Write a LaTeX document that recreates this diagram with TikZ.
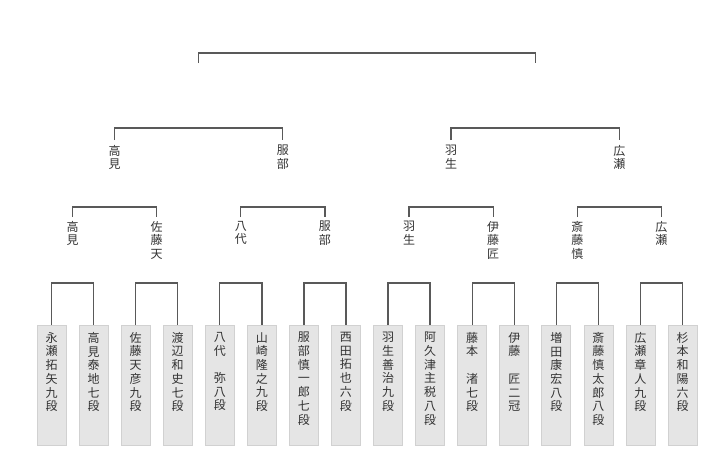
\documentclass[tikz,border=0pt]{standalone}
\usepackage{fontspec}
\newfontfamily\cjk{Noto Sans CJK JP}
\begin{document}
\begin{tikzpicture}[x=1pt,y=-1pt,
  br/.style={draw=black!65,line width=1.4pt},
  leaf/.style={fill=black!10,draw=black!18,line width=0.8pt,minimum width=29pt,minimum height=120pt,anchor=north,inner sep=0pt},
  lt/.style={anchor=north,align=center,inner sep=0pt,text=black!80,font=\cjk\fontsize{12}{13.7}\selectfont},
  wl/.style={anchor=north,align=center,inner sep=0pt,text=black!80,font=\cjk\fontsize{12}{13.4}\selectfont}]
\useasboundingbox (0,0) rectangle (720,453);
% leaves
\foreach \i/\t in {0/永\\瀬\\拓\\矢\\九\\段,1/高\\見\\泰\\地\\七\\段,2/佐\\藤\\天\\彦\\九\\段,3/渡\\辺\\和\\史\\七\\段,
 4/八\\代\\　\\弥\\八\\段,5/山\\崎\\隆\\之\\九\\段,6/服\\部\\慎\\一\\郎\\七\\段,7/西\\田\\拓\\也\\六\\段,
 8/羽\\生\\善\\治\\九\\段,9/阿\\久\\津\\主\\税\\八\\段,10/藤\\本\\　\\渚\\七\\段,11/伊\\藤\\　\\匠\\二\\冠,
 12/増\\田\\康\\宏\\八\\段,13/斎\\藤\\慎\\太\\郎\\八\\段,14/広\\瀬\\章\\人\\九\\段,15/杉\\本\\和\\陽\\六\\段}{
  \node[leaf] (L\i) at ({51.5+42.07*\i},325) {};
  \node[lt] (T\i) at ({51.5+42.07*\i},332) {\t};
}
% round 1 brackets
\foreach \j in {0,...,7}{
  \pgfmathtruncatemacro\a{2*\j}\pgfmathtruncatemacro\b{2*\j+1}
  \draw[br] (L\a.north) -- ++(0,-42) -| (L\b.north);
}
% round 2 winners
\foreach \j/\t in {0/高\\見,1/佐\\藤\\天,2/八\\代,3/服\\部,4/羽\\生,5/伊\\藤\\匠,6/斎\\藤\\慎,7/広\\瀬}{
  \coordinate (P\j) at ({72.5+84.14*\j},217);
  \node[wl] (W\j) at ({72.5+84.14*\j},221) {\t};
}
\foreach \k in {0,...,3}{
  \pgfmathtruncatemacro\a{2*\k}\pgfmathtruncatemacro\b{2*\k+1}
  \draw[br] (P\a) -- ++(0,-10) -| (P\b);
}
% round 3 winners
\foreach \k/\t in {0/高\\見,1/服\\部,2/羽\\生,3/広\\瀬}{
  \coordinate (Q\k) at ({114.5+168.28*\k},140);
  \node[wl] (V\k) at ({114.5+168.28*\k},145) {\t};
}
\draw[br] (Q0) -- ++(0,-12) -| (Q1);
\draw[br] (Q2) -- ++(0,-12) -| (Q3);
% final
\coordinate (S0) at (198.6,63);
\coordinate (S1) at (535.2,63);
\draw[br] (S0) -- ++(0,-10) -| (S1);
\end{tikzpicture}
\end{document}
